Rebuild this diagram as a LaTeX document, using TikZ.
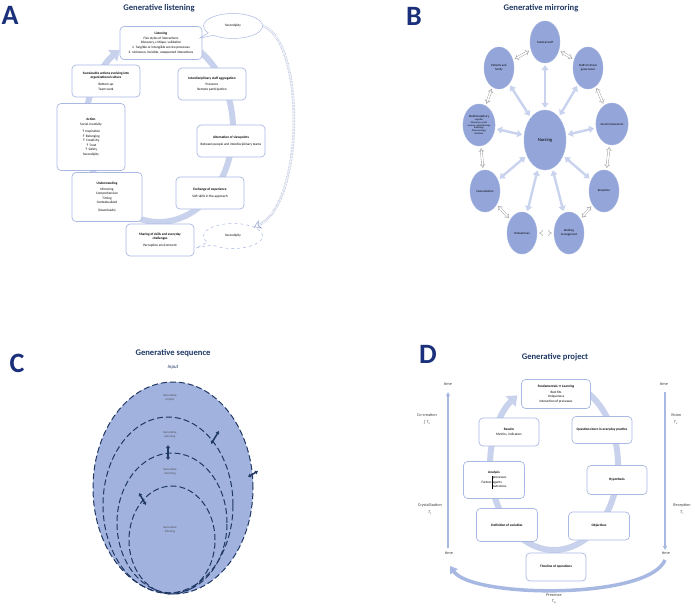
\documentclass[tikz,border=0pt]{standalone}
\usepackage{fontspec}
\setmainfont{Carlito}
\newfontfamily\symfont{DejaVu Sans}
\usetikzlibrary{arrows.meta,shapes.geometric,shapes.callouts}
\definecolor{navy}{HTML}{1F3864}
\definecolor{boxblue}{HTML}{A9B9E3}
\definecolor{arcblue}{HTML}{C8D2EC}
\definecolor{unitblue}{HTML}{93A5D9}
\definecolor{spokeblue}{HTML}{C9D3EE}
\definecolor{seqblue}{HTML}{A2B2DF}
\definecolor{timeblue}{HTML}{A7B8E2}
\newcommand{\boxfont}{\fontsize{3.4}{4.6}\selectfont}
\newcommand{\unitfont}{\fontsize{3}{3.8}\selectfont}
\newcommand{\sidefont}{\fontsize{4.2}{5}\selectfont}
\newcommand{\titlefont}{\fontsize{8.6}{10}\selectfont\bfseries}
\newcommand{\letterfont}{\fontsize{28}{28}\selectfont\bfseries}
\newcommand{\up}{{\symfont ↑}}

\tikzset{
  stagebox/.style={draw=boxblue, line width=0.7pt, fill=white, rounded corners=4pt, align=center,
    minimum width=68pt, minimum height=32pt, inner sep=1pt, font=\boxfont},
  cloudnote/.style={ellipse callout, draw=boxblue, line width=0.5pt, fill=white, minimum width=59pt,
    minimum height=25pt, font=\boxfont},
  cyclearc/.style={arcblue, line width=6pt, -{Triangle[length=9pt,width=14pt]}},
  dotarrow/.style={boxblue!80!navy, densely dotted, double, double distance=1.5pt, line width=0.5pt,
    -{Stealth[open,length=7pt,width=9pt]}},
  unit/.style={ellipse, fill=unitblue, draw=unitblue!85!white, minimum width=30pt, minimum height=42pt,
    inner sep=0pt, align=center, font=\unitfont},
  spoke/.style={spokeblue, line width=2.4pt, {Triangle[length=5pt,width=7pt]}-{Triangle[length=5pt,width=7pt]},
    shorten <=2pt, shorten >=2pt},
  link/.style={draw=gray!80, line width=0.4pt, double=white, double distance=1.6pt, {Implies}-{Implies},
    shorten <=2pt, shorten >=2pt},
  seqring/.style={ellipse, draw=navy, line width=1pt, dash pattern=on 6pt off 3pt, inner sep=0pt},
  seqlabel/.style={align=center, font=\unitfont, text=black!70},
  crossarrow/.style={navy, line width=1.5pt, {Latex[length=3pt,width=4.5pt]}-{Latex[length=3pt,width=4.5pt]}},
  timeline/.style={timeblue, line width=1.6pt, -{Triangle[length=4pt,width=4pt]}},
  sidelabel/.style={font=\sidefont, text=black!75, align=center},
  paneltitle/.style={font=\titlefont, text=navy},
  panelletter/.style={font=\letterfont, text=navy!85!blue}
}

\begin{document}
\begin{tikzpicture}[x=1pt,y=1pt]
\useasboundingbox (0,0) rectangle (695,-610);
\fill[white] (0,0) rectangle (695,-610);

% panel A
\node[panelletter] (letA) at (10,-15) {A};
\node[paneltitle] (titA) at (159,-8) {Generative listening};
\draw[cyclearc] (159,-129) ++(70:74 and 93) arc[start angle=70, end angle=-238, x radius=74, y radius=93];
\node[stagebox, minimum width=82pt, minimum height=33pt] (lis) at (161,-43)
  {\textbf{Listening}\\Five styles of interactions\\Discovery, critique, validation\\1. Tangible or intangible service processes\\2. Unknown, invisible, unexpected interactions};
\node[stagebox] (sus) at (106,-81)
  {\textbf{Sustainable actions evolving into}\\\textbf{organizational culture}\\[2pt]Bottom-up\\Team work};
\node[stagebox, minimum height=67pt] (act) at (91,-137)
  {\textbf{Action}\\[1pt]Social creativity\\[2pt]\up\ Inspiration\\\up\ Belonging\\\up\ Creativity\\\up\ Trust\\\up\ Safety\\Serendipity};
\node[stagebox, minimum width=70pt, minimum height=49pt] (und) at (107,-197)
  {\textbf{Understanding}\\[1pt]Mirroring\\Comprehension\\Timing\\Contextualized\\[3pt](Downloads)};
\node[stagebox] (sha) at (160,-240)
  {\textbf{Sharing of skills and everyday}\\\textbf{challenges}\\[2pt]Perception environment};
\node[stagebox] (exc) at (210,-193) {\textbf{Exchange of experience}\\[2pt]Soft skills in the approach};
\node[stagebox] (alt) at (231,-141) {\textbf{Alternation of viewpoints}\\[2pt]Between people and interdisciplinary teams};
\node[stagebox] (idis) at (212,-84) {\textbf{Interdisciplinary staff aggregation}\\[2pt]Presence\\Remote participation};
\node[cloudnote, callout absolute pointer={(200,-38)}] (sertop) at (233,-26) {Serendipity};
\node[cloudnote, dashed, callout absolute pointer={(196,-248)}] (serbot) at (233,-236) {Serendipity};
\draw[dotarrow] (sertop.east) .. controls (305,-40) and (305,-205) .. (serbot.north east);

% panel B
\node[panelletter] (letB) at (414,-16) {B};
\node[paneltitle] (titB) at (541,-8) {Generative mirroring};
\node[unit, minimum width=42pt, minimum height=60pt, font=\fontsize{4.6}{5}\selectfont] (nur) at (545,-140) {Nursing};
\node[unit] (med) at (545,-42) {Medical staff};
\node[unit] (pat) at (499,-68) {Patients and\\family};
\node[unit] (gov) at (588,-68) {Staff of clinical\\governance};
\node[unit] (soc) at (612,-124) {Social involvement};
\node[unit] (rec) at (604,-191) {Reception};
\node[unit] (bld) at (569,-233) {Building\\management};
\node[unit] (omb) at (522,-233) {Ombudsman};
\node[unit] (hum) at (485,-191) {Humanization};
\node[unit, font=\fontsize{2.4}{2.9}\selectfont] (mul) at (479,-125)
  {\fontsize{3}{3.6}\selectfont Multidisciplinary\\Logistics\\Pharmacy, social\\services, physiotherapy\\Radiology\\Pharmacology\\Nutrition};
\foreach \u in {med,pat,gov,soc,rec,bld,omb,hum,mul}
  \draw[spoke] (nur) -- (\u);
\foreach \a/\b in {pat/med, med/gov, gov/soc, soc/rec, rec/bld, bld/omb, omb/hum, hum/mul, mul/pat}
  \draw[link] (\a) -- (\b);

% panel C
\node[panelletter] (letC) at (17,-363) {C};
\node[paneltitle] (titC) at (173,-353) {Generative sequence};
\node[font=\fontsize{5}{6}\selectfont\itshape, text=navy] (input) at (173,-367) {Input};
\node[seqring, fill=seqblue, minimum width=160pt, minimum height=212pt] (ringproj) at (173,-488) {};
\node[seqring, minimum width=130pt, minimum height=176pt] (ringplan) at (168,-505) {};
\node[seqring, minimum width=110pt, minimum height=140pt] (ringmir) at (172,-523) {};
\node[seqring, minimum width=86pt, minimum height=108pt] (ringlis) at (172,-540) {};
\node[seqlabel] (lproj) at (170,-398) {Generative\\project};
\node[seqlabel] (lplan) at (170,-435) {Generative\\planning};
\node[seqlabel] (lmir) at (170,-472) {Generative\\mirroring};
\node[seqlabel] (llis) at (170,-530) {Generative\\listening};
\coordinate (x1a) at (211,-444); \coordinate (x1b) at (219,-431);
\coordinate (x2a) at (168,-460); \coordinate (x2b) at (168,-445);
\coordinate (x3a) at (248,-477); \coordinate (x3b) at (258,-471);
\coordinate (x4a) at (146,-505); \coordinate (x4b) at (139,-493);
\foreach \k in {1,2,3,4}
  \draw[crossarrow] (x\k a) -- (x\k b);

% panel D
\node[panelletter] (letD) at (428,-354) {D};
\node[paneltitle] (titD) at (555,-357) {Generative project};
\draw[cyclearc] (554,-465) ++(60:64 and 85) arc[start angle=60, end angle=-235, x radius=64, y radius=85];
\node[stagebox, minimum width=69pt, minimum height=29pt] (fund) at (556,-394)
  {\textbf{Fundamentals {\symfont ↔} Learning}\\[1pt]Best fits\\Uniqueness\\Interaction of processes};
\node[stagebox, minimum width=60pt, minimum height=28pt] (res) at (509,-432) {\textbf{Results}\\[1pt]Metrics, indicators};
\node[stagebox, minimum width=60pt, minimum height=27pt] (que) at (602,-430) {\textbf{Questions born in everyday practice}};
\node[stagebox, minimum width=61pt, minimum height=37pt] (ana) at (494,-480)
  {\textbf{Analysis}\\[1pt]\begin{tabular}{@{}r@{\,}|@{\,}l@{}} & processes\\ Factors & agents\\ & outcomes\end{tabular}};
\node[stagebox, minimum width=60pt, minimum height=29pt] (hyp) at (617,-480) {\textbf{Hypothesis}};
\node[stagebox, minimum width=61pt, minimum height=33pt] (def) at (507,-525) {\textbf{Definition of variables}};
\node[stagebox, minimum width=61pt, minimum height=28pt] (obj) at (599,-526) {\textbf{Objectives}};
\node[stagebox, minimum width=60pt, minimum height=28pt] (tow) at (556,-567) {\textbf{Timeline of operations}};
\coordinate (ltop) at (448,-392);
\coordinate (lbot) at (448,-548);
\coordinate (rtop) at (665,-392);
\coordinate (rbot) at (665,-550);
\draw[timeline] (lbot) -- (ltop);
\draw[timeline] (rtop) -- (rbot);
\coordinate (pstart) at (665,-560);
\coordinate (pend) at (450,-566);
\draw[timeblue, line width=3.5pt, -{Triangle[length=7pt,width=9pt]}] (pstart) .. controls (648,-600) and (472,-598) .. (pend);
\node[sidelabel] (tl1) at (448,-384) {time};
\node[sidelabel] (tr1) at (664,-384) {time};
\node[sidelabel] (tl2) at (449,-553) {time};
\node[sidelabel] (tr2) at (666,-553) {time};
\node[sidelabel] (cocr) at (427,-419) {Co-creation\\[2pt]{\symfont ∫}\,\textit{T}\textsubscript{s}};
\node[sidelabel] (crys) at (430,-509) {Crystallization\\[2pt]\textit{T}\textsubscript{c}};
\node[sidelabel] (vis) at (676,-419) {Vision\\[2pt]\textit{T}\textsubscript{v}};
\node[sidelabel] (recp) at (682,-509) {Reception\\[2pt]\textit{T}\textsubscript{r}};
\node[sidelabel] (pres) at (554,-599) {Presence\\[1pt]\textit{T}\textsubscript{p}};
\end{tikzpicture}
\end{document}
